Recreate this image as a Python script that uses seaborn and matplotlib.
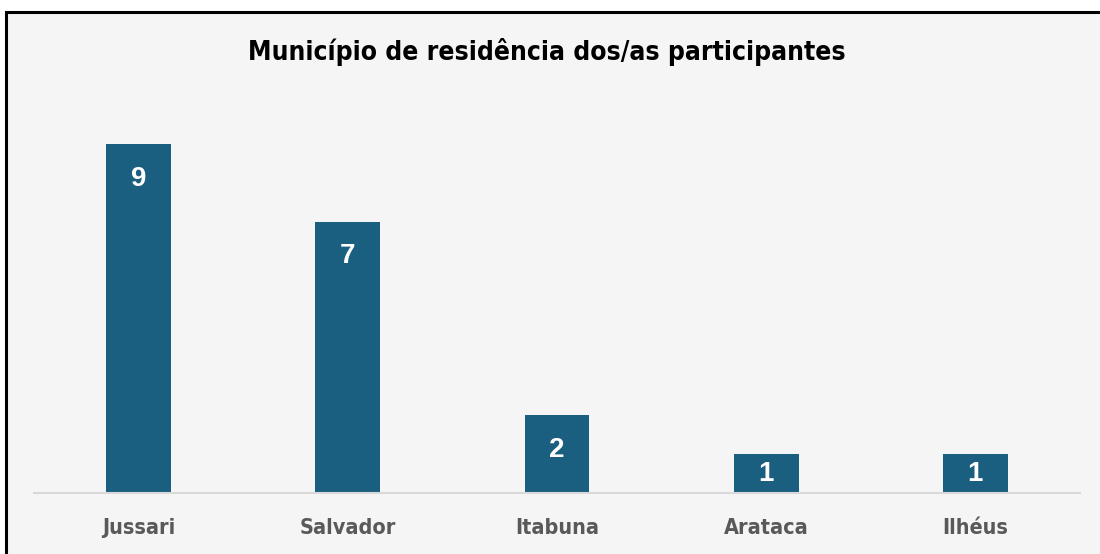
import matplotlib
matplotlib.use("Agg")
import matplotlib.pyplot as plt
from matplotlib.patches import Rectangle
import seaborn as sns

cidades = ["Jussari", "Salvador", "Itabuna", "Arataca", "Ilhéus"]
participantes = [9, 7, 2, 1, 1]
titulo = "Município de residência dos/as participantes"

sns.set_theme(style="white")
plt.rcParams["font.family"] = ["DejaVu Sans"]

fig = plt.figure(figsize=(11, 5.54), dpi=100, facecolor="white")
# moldura cinza com borda preta
fig.patches.append(Rectangle((0.0055, -0.02), 1.02, 0.998, transform=fig.transFigure,
                             facecolor="#f5f5f5", edgecolor="black", linewidth=2.2, zorder=-5))

ax = fig.add_axes([0.0309, 0.1101, 0.9509, 0.70])
ax.set_zorder(5)
ax.set_facecolor("none")
sns.barplot(x=cidades, y=participantes, color="#1a5e80", saturation=1, width=0.31,
            linewidth=0, edgecolor="none", ax=ax)
ax.set_ylim(0, 10)
ax.set_xlim(-0.5, 4.5)

for i, v in enumerate(participantes):
    y = max(v - 0.9, v / 2)
    ax.text(i, y, str(v), ha="center", va="center", color="white",
            fontsize=20, fontweight="bold", fontstretch="normal", family="Liberation Sans")

for s in ["top", "right", "left"]:
    ax.spines[s].set_visible(False)
ax.spines["bottom"].set_color("#d9d9d9")
ax.spines["bottom"].set_linewidth(1.5)
ax.set_yticks([])
ax.set_xlabel("")
ax.set_ylabel("")
ax.tick_params(axis="x", length=0, pad=18, labelcolor="#595959")
for lab in ax.get_xticklabels():
    lab.set_fontsize(15.5)
    lab.set_fontweight("bold")
    lab.set_fontstretch("condensed")

fig.text(0.497, 0.906, titulo, ha="center", va="center", fontsize=19,
         fontweight="bold", fontstretch="condensed", color="black", zorder=6)

fig.savefig("out.png", dpi=100, facecolor="white")
